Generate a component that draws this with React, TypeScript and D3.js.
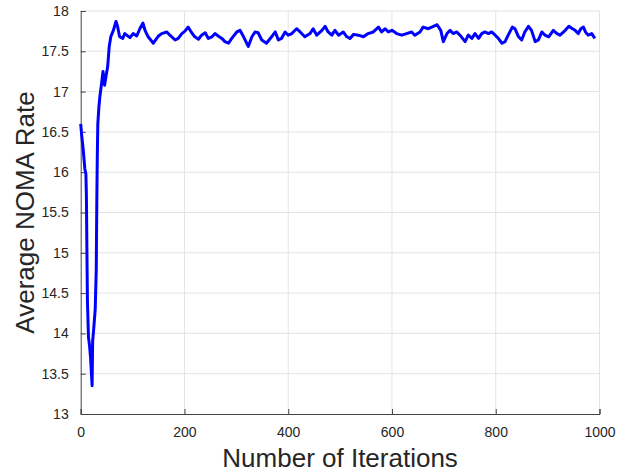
import * as d3 from "d3";
import { useEffect, useRef } from "react";

// iteration index and average NOMA rate
const iterations = [
  0, 2, 5, 8, 10, 11, 12, 13, 15, 17, 19, 22, 23, 25, 28, 30, 31, 32, 33, 35,
  37, 41, 43, 46, 49, 52, 55, 58, 63, 68, 71, 75, 81, 85, 95, 101, 108, 114,
  120, 124, 130, 140, 150, 156, 166, 172, 182, 188, 195, 201, 207, 214, 220,
  227, 233, 240, 246, 253, 259, 265, 272, 278, 285, 291, 301, 307, 314, 323,
  330, 336, 342, 349, 358, 368, 375, 381, 387, 394, 400, 407, 416, 423, 432,
  442, 448, 455, 465, 471, 477, 484, 490, 497, 506, 513, 519, 526, 535, 545,
  554, 564, 574, 580, 587, 593, 600, 609, 619, 628, 638, 644, 654, 660, 670,
  680, 687, 694, 699, 706, 712, 718, 725, 731, 741, 747, 754, 760, 767, 773,
  779, 786, 792, 799, 805, 812, 818, 824, 832, 837, 844, 850, 856, 863, 869,
  876, 882, 889, 895, 902, 911, 918, 924, 934, 941, 948, 953, 959, 964, 969,
  973, 978, 985, 991,
];
const rate = [
  16.6, 16.45, 16.27, 16.04, 15.98, 15.7, 15.0, 14.4, 13.95, 13.85, 13.7,
  13.35, 13.9, 14.05, 14.3, 14.8, 15.6, 16.2, 16.6, 16.8, 16.94, 17.14, 17.25,
  17.08, 17.2, 17.31, 17.56, 17.68, 17.76, 17.87, 17.81, 17.68, 17.66, 17.72,
  17.67, 17.72, 17.69, 17.78, 17.85, 17.76, 17.68, 17.6, 17.69, 17.72, 17.74,
  17.7, 17.64, 17.66, 17.72, 17.75, 17.8, 17.73, 17.68, 17.65, 17.7, 17.73,
  17.66, 17.68, 17.72, 17.69, 17.66, 17.62, 17.6, 17.66, 17.74, 17.76, 17.68,
  17.56, 17.68, 17.74, 17.73, 17.64, 17.6, 17.68, 17.74, 17.64, 17.66, 17.74,
  17.7, 17.72, 17.78, 17.74, 17.68, 17.72, 17.78, 17.7, 17.76, 17.81, 17.74,
  17.7, 17.76, 17.7, 17.74, 17.68, 17.66, 17.71, 17.7, 17.68, 17.72, 17.74,
  17.8, 17.74, 17.78, 17.74, 17.76, 17.72, 17.7, 17.72, 17.74, 17.7, 17.74,
  17.8, 17.78, 17.81, 17.83, 17.76, 17.62, 17.72, 17.76, 17.72, 17.74, 17.7,
  17.62, 17.7, 17.66, 17.72, 17.66, 17.72, 17.74, 17.72, 17.74, 17.7, 17.66,
  17.6, 17.62, 17.7, 17.8, 17.78, 17.68, 17.64, 17.74, 17.81, 17.76, 17.62,
  17.64, 17.74, 17.7, 17.68, 17.76, 17.72, 17.7, 17.76, 17.81, 17.78, 17.76,
  17.72, 17.78, 17.8, 17.74, 17.7, 17.72, 17.66,
];
const xTicks = [0, 200, 400, 600, 800, 1000];
const yTicks = [13, 13.5, 14, 14.5, 15, 15.5, 16, 16.5, 17, 17.5, 18];

const App = () => {
  const ref = useRef<SVGSVGElement>(null);

  useEffect(() => {
    const width = 637;
    const height = 476;
    const margin = { top: 11, right: 37.5, bottom: 62, left: 80.7 };

    const svg = d3.select(ref.current);
    svg.selectAll("*").remove();

    const x = d3
      .scaleLinear()
      .domain([0, 1000])
      .range([margin.left, width - margin.right]);
    const y = d3
      .scaleLinear()
      .domain([13, 18])
      .range([height - margin.bottom, margin.top]);

    const font = "'Liberation Sans', Arial, sans-serif";

    // grid
    svg
      .append("g")
      .selectAll("line")
      .data(xTicks.slice(1))
      .join("line")
      .attr("x1", (d) => x(d))
      .attr("x2", (d) => x(d))
      .attr("y1", y(13))
      .attr("y2", y(18))
      .attr("stroke", "#e3e3e3")
      .attr("stroke-width", 1);
    svg
      .append("g")
      .selectAll("line")
      .data(yTicks.slice(1))
      .join("line")
      .attr("x1", x(0))
      .attr("x2", x(1000))
      .attr("y1", (d) => y(d))
      .attr("y2", (d) => y(d))
      .attr("stroke", "#e3e3e3")
      .attr("stroke-width", 1);

    // axes (ticks pointing inward, MATLAB style)
    const xAxis = d3
      .axisBottom(x)
      .tickValues(xTicks)
      .tickSize(-5)
      .tickPadding(13)
      .tickFormat(d3.format("d"));
    const yAxis = d3
      .axisLeft(y)
      .tickValues(yTicks)
      .tickSize(-5)
      .tickPadding(12)
      .tickFormat((d) => String(d));

    const gx = svg
      .append("g")
      .attr("transform", `translate(0,${y(13)})`)
      .call(xAxis);
    const gy = svg
      .append("g")
      .attr("transform", `translate(${x(0)},0)`)
      .call(yAxis);
    [gx, gy].forEach((g) => {
      g.select(".domain").attr("stroke", "#444").attr("stroke-width", 1);
      g.selectAll(".tick line").attr("stroke", "#444");
      g.selectAll(".tick text")
        .attr("fill", "#262626")
        .attr("font-size", 14)
        .attr("font-family", font);
    });

    // line
    const line = d3
      .line<number>()
      .x((_, i) => x(iterations[i]))
      .y((d) => y(d));
    svg
      .append("path")
      .datum(rate)
      .attr("fill", "none")
      .attr("stroke", "#0000ff")
      .attr("stroke-width", 3)
      .attr("stroke-linejoin", "round")
      .attr("d", line);

    // labels
    svg
      .append("text")
      .attr("x", (x(0) + x(1000)) / 2)
      .attr("y", 467)
      .attr("text-anchor", "middle")
      .attr("font-size", 26)
      .attr("font-family", font)
      .attr("fill", "#262626")
      .text("Number of Iterations");
    svg
      .append("text")
      .attr("transform", `translate(34,${(y(13) + y(18)) / 2}) rotate(-90)`)
      .attr("text-anchor", "middle")
      .attr("font-size", 26)
      .attr("font-family", font)
      .attr("fill", "#262626")
      .text("Average NOMA Rate");
  }, []);

  return (
    <svg
      ref={ref}
      width={637}
      height={476}
      style={{ position: "absolute", left: 0, top: 0, background: "#fff" }}
    ></svg>
  );
};

export default App;
